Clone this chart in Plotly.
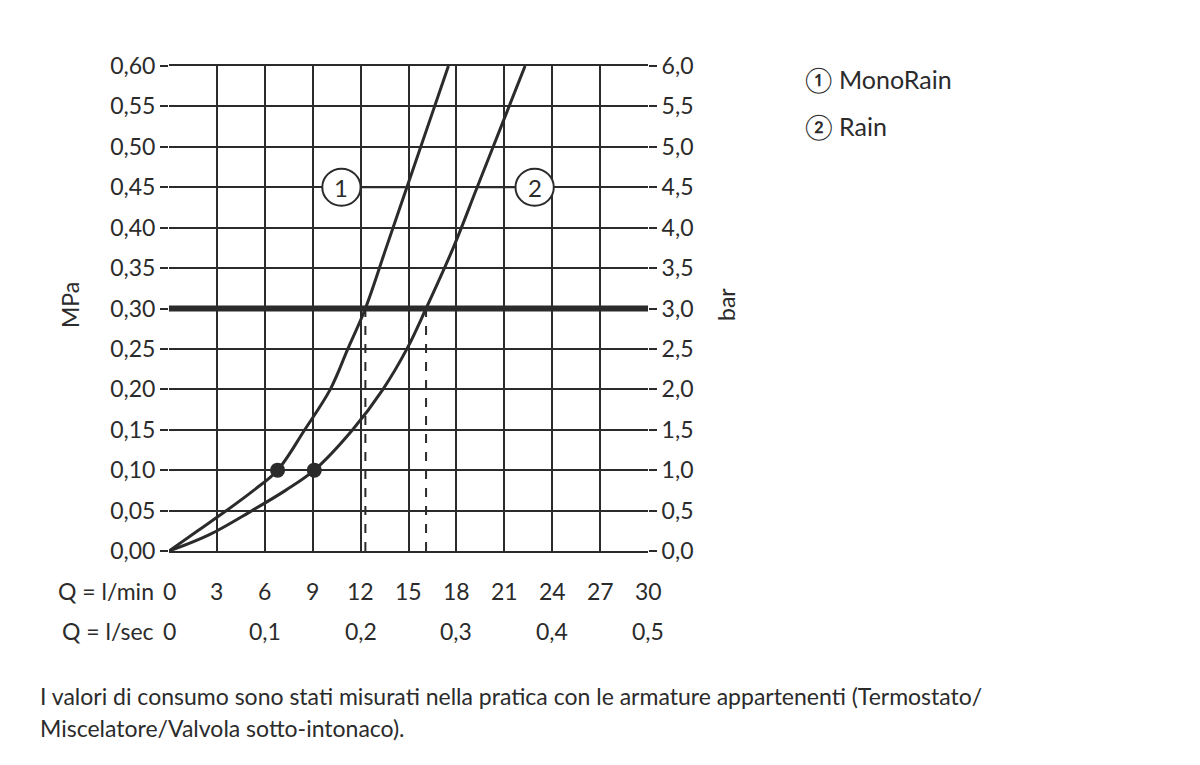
import plotly.graph_objects as go

c1_x = [0, 1.8, 3.6, 5.3, 6.8, 8.5, 10.1, 11.2, 12.3, 13.6, 14.9, 16.2, 17.5]
c1_y = [0, 0.025, 0.05, 0.075, 0.10, 0.15, 0.20, 0.25, 0.30, 0.375, 0.45, 0.525, 0.60]
c2_x = [0, 2.5, 5.2, 7.3, 9.1, 11.5, 13.4, 14.9, 16.1, 17.8, 19.3, 20.8, 22.3]
c2_y = [0, 0.02, 0.05, 0.075, 0.10, 0.15, 0.20, 0.25, 0.30, 0.375, 0.45, 0.525, 0.60]
dots_x = [6.8, 9.1]
dots_y = [0.10, 0.10]
op_x = [12.3, 16.1]
op_y = 0.30
ymin_ticks = [i * 0.05 for i in range(13)]
ymin_labels = [f"{v:.2f}".replace(".", ",") for v in ymin_ticks]
bar_labels = [f"{v*10:.1f}".replace(".", ",") for v in ymin_ticks]
lmin = [0, 3, 6, 9, 12, 15, 18, 21, 24, 27, 30]
lsec = [0, 0.1, 0.2, 0.3, 0.4, 0.5]
lsec_labels = ["0", "0,1", "0,2", "0,3", "0,4", "0,5"]

F = "Lato"
col = "#2b2b2b"
FS = 23
L, R, T, B = 161, 560, 58, 222
PW, PH = 1200 - L - R, 765 - T - B

def px(x):
    return (x - L) / PW
def py(y):
    return 1 - (y - T) / PH

fig = go.Figure()
fig.add_trace(go.Scatter(x=c1_x, y=c1_y, mode="lines", line=dict(color=col, width=3, shape="spline"), showlegend=False))
fig.add_trace(go.Scatter(x=c2_x, y=c2_y, mode="lines", line=dict(color=col, width=3, shape="spline"), showlegend=False))
fig.add_trace(go.Scatter(x=dots_x, y=dots_y, mode="markers", marker=dict(color=col, size=15), showlegend=False))
fig.add_trace(go.Scatter(x=[0, 30], y=[0, 0.6], yaxis="y2", mode="markers", marker=dict(opacity=0), showlegend=False))
for x in op_x:
    fig.add_shape(type="line", x0=x, x1=x, y0=0, y1=op_y, line=dict(color=col, width=2, dash="dash"))
fig.add_shape(type="line", x0=0, x1=30, y0=op_y, y1=op_y, line=dict(color=col, width=6))
for lab, cx, lx in [("1", 10.8, 14.9), ("2", 22.9, 19.3)]:
    fig.add_shape(type="line", x0=cx + (1.2 if lab == "1" else -1.2), x1=lx, y0=0.45, y1=0.45, line=dict(color=col, width=2))
    fig.add_shape(type="circle", x0=cx - 1.2, x1=cx + 1.2, y0=0.427, y1=0.473, fillcolor="white", line=dict(color=col, width=2))
    fig.add_annotation(x=cx, y=0.45, text=lab, showarrow=False, font=dict(family=F, size=24, color=col))

font = dict(family=F, size=FS, color=col)
for v in lmin:
    fig.add_annotation(x=v, y=py(583), xref="x", yref="paper", yanchor="middle", text=str(v), showarrow=False, font=font)
for v, t in zip(lsec, lsec_labels):
    fig.add_annotation(x=v * 60, y=py(623), xref="x", yref="paper", yanchor="middle", text=t, showarrow=False, font=font)

def fa(x, y, text, size=FS, xanchor="left", angle=0):
    fig.add_annotation(x=px(x), y=py(y), xref="paper", yref="paper", xanchor=xanchor, yanchor="middle",
                       text=text, showarrow=False, font=dict(family=F, size=size, color=col), textangle=angle)

fa(148, 583, "Q = l/min", xanchor="right")
fa(148, 623, "Q = l/sec", xanchor="right")
fa(62, 297, "MPa", xanchor="center", angle=-90)
fa(718, 297, "bar", xanchor="center", angle=-90)
fa(795, 71, "① MonoRain", 25)
fa(795, 118, "② Rain", 25)
fa(30, 688, "I valori di consumo sono stati misurati nella pratica con le armature appartenenti (Termostato/", FS)
fa(30, 720, "Miscelatore/Valvola sotto-intonaco).", FS)

fig.update_layout(
    width=1200, height=765, margin=dict(l=L, r=R, t=T, b=B, autoexpand=False),
    plot_bgcolor="white", paper_bgcolor="white",
    xaxis=dict(range=[0, 30], tickvals=lmin, showticklabels=False, showgrid=True, gridcolor=col, gridwidth=2,
               showline=True, linecolor=col, linewidth=2, mirror=True, zeroline=False, automargin=False),
    yaxis=dict(range=[0, 0.6], tickvals=ymin_ticks, ticktext=ymin_labels, showgrid=True, gridcolor=col, gridwidth=2,
               ticks="outside", ticklen=8, tickwidth=2, tickcolor=col, zeroline=False, automargin=False,
               tickfont=font),
    yaxis2=dict(range=[0, 0.6], overlaying="y", side="right", tickvals=ymin_ticks, ticktext=bar_labels,
                ticks="outside", ticklen=8, tickwidth=2, tickcolor=col, showgrid=False, zeroline=False,
                automargin=False, tickfont=font),
)
fig.write_html("out.html")
